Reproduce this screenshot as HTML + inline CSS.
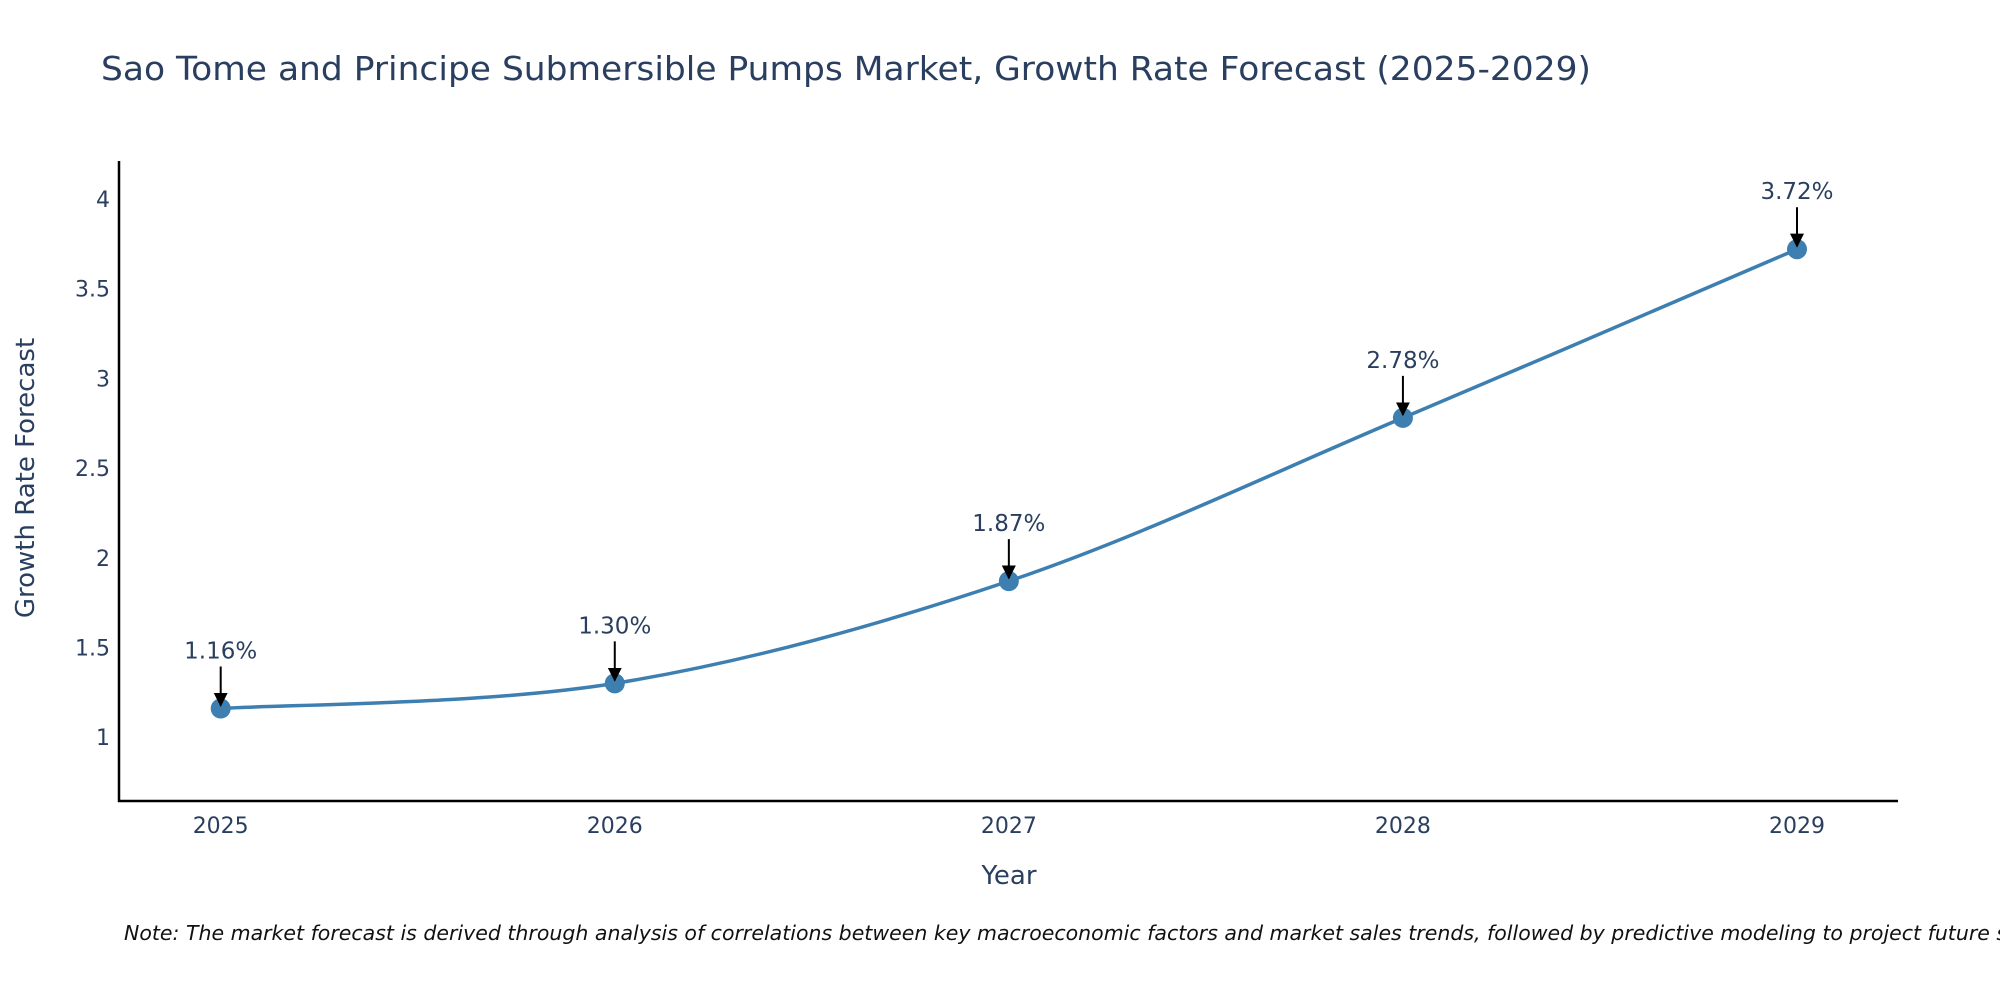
<!DOCTYPE html>
<html><head><meta charset="utf-8"><style>
html,body{margin:0;padding:0;background:#fff;overflow:hidden;}
svg{display:block;font-family:"DejaVu Sans","Liberation Sans",sans-serif;}
</style></head><body>
<svg id="chart" width="2000" height="1000" viewBox="0 0 2000 1000" xmlns="http://www.w3.org/2000/svg">
<defs><marker id="ah" viewBox="0 0 10 10" refX="9" refY="5" markerWidth="7" markerHeight="7" orient="auto"><path d="M0,0 L10,5 L0,10 z" fill="#000"/></marker></defs>
<text x="101" y="80" font-size="33" fill="#2a3f5f" textLength="1490" lengthAdjust="spacingAndGlyphs">Sao Tome and Principe Submersible Pumps Market, Growth Rate Forecast (2025-2029)</text>
<g id="yticks"></g><g id="xticks"></g>
<line x1="119" y1="161" x2="119" y2="802" stroke="#000" stroke-width="2.5"/>
<line x1="118" y1="801" x2="1898" y2="801" stroke="#000" stroke-width="2.5"/>
<path id="line" fill="none" stroke="#3d7fb0" stroke-width="3.5"/>
<g id="points"></g>
<text x="1009" y="884" font-size="26" fill="#2a3f5f" text-anchor="middle">Year</text>
<text transform="translate(34,478) rotate(-90)" font-size="26" fill="#2a3f5f" text-anchor="middle">Growth Rate Forecast</text>
<text x="124" y="940" font-size="20.5" font-style="italic" fill="#111">Note: The market forecast is derived through analysis of correlations between key macroeconomic factors and market sales trends, followed by predictive modeling to project future sales.</text>
</svg>
<script>
const years=[2025,2026,2027,2028,2029];
const values=[1.16,1.30,1.87,2.78,3.72];
const labels=["1.16%","1.30%","1.87%","2.78%","3.72%"];
const yTickVals=[1,1.5,2,2.5,3,3.5,4];
const yTickLabels=["1","1.5","2","2.5","3","3.5","4"];
const NS="http://www.w3.org/2000/svg";
const X=v=>220.7+(v-2025)*(1797-220.7)/4;
const Y=v=>737.2-(v-1)*(737.2-199)/3;
function mk(t,a,p){const e=document.createElementNS(NS,t);for(const k in a)e.setAttribute(k,a[k]);p.appendChild(e);return e;}
const yt=document.getElementById('yticks');
yTickVals.forEach((v,i)=>{const t=mk('text',{x:110,y:Y(v)+8,'font-size':22,fill:'#2a3f5f','text-anchor':'end'},yt);t.textContent=yTickLabels[i];

});
const xt=document.getElementById('xticks');
years.forEach(y=>{const t=mk('text',{x:X(y),y:833,'font-size':22,fill:'#2a3f5f','text-anchor':'middle'},xt);t.textContent=String(y);

});
const P=years.map((y,i)=>[X(y),Y(values[i])]);
let d=`M${P[0][0]},${P[0][1]}`;
for(let i=0;i<P.length-1;i++){const p0=P[Math.max(0,i-1)],p1=P[i],p2=P[i+1],p3=P[Math.min(P.length-1,i+2)];const s=1/6;
d+=` C${p1[0]+(p2[0]-p0[0])*s},${p1[1]+(p2[1]-p0[1])*s} ${p2[0]-(p3[0]-p1[0])*s},${p2[1]-(p3[1]-p1[1])*s} ${p2[0]},${p2[1]}`;}
document.getElementById('line').setAttribute('d',d);
const g=document.getElementById('points');
P.forEach((p,i)=>{const c=mk('circle',{cx:p[0],cy:p[1],r:10,fill:'#3d7fb0'},g);


const a=mk('line',{x1:p[0],y1:p[1]-42,x2:p[0],y2:p[1]-3,stroke:'#000','stroke-width':2,'marker-end':'url(#ah)'},g);


const t=mk('text',{x:p[0],y:p[1]-50,'font-size':23,fill:'#2a3f5f','text-anchor':'middle'},g);t.textContent=labels[i];

});
</script>
</body></html>
